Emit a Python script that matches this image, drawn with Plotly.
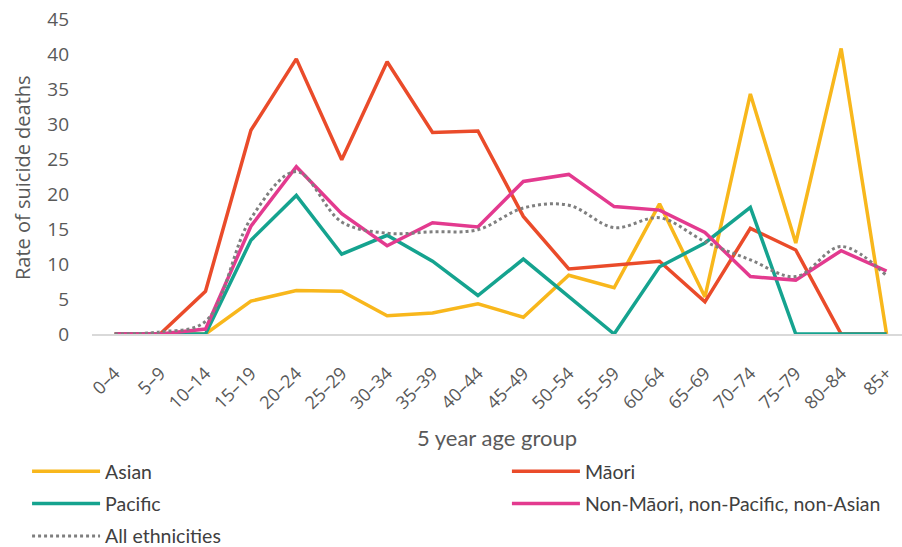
import plotly.graph_objects as go

age_groups = ["0–4", "5–9", "10–14", "15–19", "20–24", "25–29", "30–34", "35–39",
              "40–44", "45–49", "50–54", "55–59", "60–64", "65–69", "70–74", "75–79",
              "80–84", "85+"]

asian = [0, 0, 0, 4.7, 6.2, 6.1, 2.6, 3.0, 4.3, 2.4, 8.4, 6.6, 18.6, 5.3, 34.3, 13.0, 40.8, 0]
maori = [0, 0, 6.1, 29.1, 39.3, 24.9, 38.9, 28.8, 29.0, 16.8, 9.3, 9.9, 10.4, 4.6, 15.1, 12.0, 0, 0]
pacific = [0, 0, 0, 13.4, 19.8, 11.4, 14.1, 10.4, 5.5, 10.7, 5.4, 0, 9.6, 13.0, 18.1, 0, 0, 0]
non_maori = [0, 0, 0.7, 15.4, 23.9, 17.2, 12.6, 15.9, 15.3, 21.8, 22.8, 18.2, 17.7, 14.5, 8.2, 7.7, 11.9, 9.0]
all_eth = [0, 0.3, 1.8, 16.5, 23.2, 16.0, 14.4, 14.6, 14.9, 18.0, 18.4, 15.2, 16.6, 13.2, 10.6, 8.2, 12.5, 8.3]

series = [
    ("Asian", asian, "#F8B71C", "solid", "linear", "legend"),
    ("Māori", maori, "#EA4B2A", "solid", "linear", "legend2"),
    ("Pacific", pacific, "#15A38F", "solid", "linear", "legend"),
    ("Non-Māori, non-Pacific, non-Asian", non_maori, "#E33A8F", "solid", "linear", "legend2"),
    ("All ethnicities", all_eth, "#7F7F7F", "dot", "spline", "legend"),
]

fig = go.Figure()
for name, vals, color, dash, shape, leg in series:
    fig.add_trace(go.Scatter(
        x=age_groups, y=vals, name=name, mode="lines",
        line=dict(color=color, width=3.5 if dash == "solid" else 3, dash=dash, shape=shape),
        legend=leg, legendgroup=name,
    ))

legend_common = dict(
    orientation="v", xref="container", yref="container", yanchor="top", xanchor="left",
    font=dict(family="Lato, Open Sans, sans-serif", size=19.5, color="#404040"),
    tracegroupgap=4, itemwidth=68, bgcolor="rgba(0,0,0,0)",
)

fig.update_layout(
    width=902, height=547,
    margin=dict(l=92, r=0, t=19, b=213, autoexpand=False),
    paper_bgcolor="white", plot_bgcolor="white",
    font=dict(family="Open Sans, sans-serif", color="#595959"),
    legend=dict(x=0.03, y=1 - 452 / 547, **legend_common),
    legend2=dict(x=0.562, y=1 - 452 / 547, **legend_common),
    xaxis=dict(
        type="category", range=[-0.5, 17.34],
        showgrid=False, showline=True, linecolor="#D9D9D9", linewidth=1.5,
        ticks="", tickangle=-45, tickfont=dict(size=18, color="#595959"),
        ticklabelstandoff=20,
        title=dict(text="5 year age group", standoff=18,
                   font=dict(family="Lato, sans-serif", size=22, color="#595959")),
        zeroline=False,
    ),
    yaxis=dict(
        range=[0, 45], dtick=5, showgrid=False, zeroline=False, showline=False,
        ticks="", tickfont=dict(size=19, color="#595959"), ticklabelstandoff=22,
    ),
    annotations=[dict(
        text="Rate of suicide deaths", textangle=-90,
        xref="paper", yref="paper", x=(22 - 92) / 810, y=(334 - 178) / 315,
        xanchor="center", yanchor="middle", showarrow=False,
        font=dict(family="Open Sans, sans-serif", size=20, color="#595959"),
    )],
)

fig.write_html("out.html")
